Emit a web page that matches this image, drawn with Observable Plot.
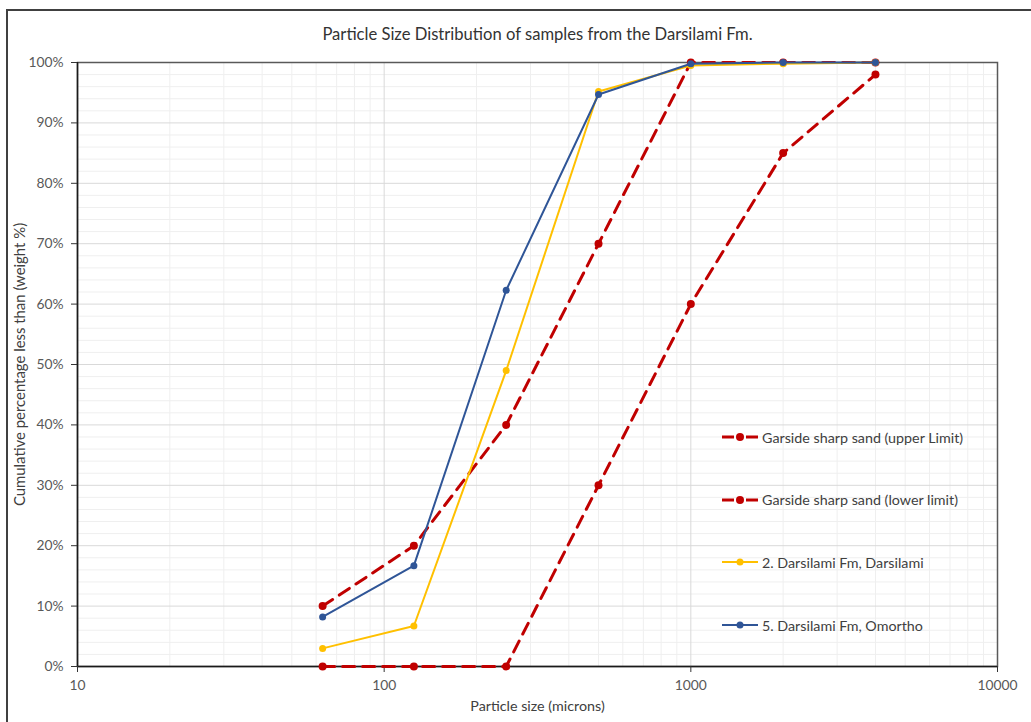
<!DOCTYPE html>
<html>
<head>
<meta charset="utf-8">
<script src="https://cdn.jsdelivr.net/npm/d3@7"></script>
<script src="https://cdn.jsdelivr.net/npm/@observablehq/plot@0.6"></script>
<style>
  html, body { margin: 0; padding: 0; background: #fff; overflow: hidden; }
  #wrap { position: relative; width: 1031px; height: 722px; font-family: Lato, "Open Sans", sans-serif; }
  #border { position: absolute; left: 6px; top: 9px; width: 1060px; height: 760px; border: 2px solid #404040; box-sizing: border-box; pointer-events: none; }
  #chart { position: absolute; left: 0; top: 0; }
  #legend { position: absolute; left: 0; top: 0; }
  .item { position: absolute; display: flex; align-items: center; font-size: 14.3px; color: #404040; white-space: nowrap; }
  .item svg { margin-right: 4px; }
</style>
</head>
<body>
<div id="wrap">
  <div id="chart"></div>
  <div id="legend"></div>
  <div id="border"></div>
</div>
<script>
// ---- data ----
const sizes = [63, 125, 250, 500, 1000, 2000, 4000];
const upperLimit = [10, 20, 40, 70, 100, 100, 100];
const lowerLimit = [0, 0, 0, 30, 60, 85, 98];
const darsilami = [3.0, 6.7, 49.0, 95.2, 99.5, 99.8, 100];
const omortho = [8.2, 16.7, 62.3, 94.7, 99.8, 100, 100];
const seriesNames = [
  "Garside sharp sand (upper Limit)",
  "Garside sharp sand (lower limit)",
  "2. Darsilami Fm, Darsilami",
  "5. Darsilami Fm, Omortho"
];
const seriesColors = ["#C00000", "#C00000", "#FFC000", "#2F5597"];
const seriesDashed = [true, true, false, false];
const xMajorTicks = [10, 100, 1000, 10000];
const yMajorTicks = [0, 10, 20, 30, 40, 50, 60, 70, 80, 90, 100];
const titleText = "Particle Size Distribution of samples from the Darsilami Fm.";
const xLabel = "Particle size (microns)";
const yLabel = "Cumulative percentage less than (weight %)";

// ---- derived ----
const seriesValues = [upperLimit, lowerLimit, darsilami, omortho];
const rows = seriesValues.flatMap((vals, i) =>
  sizes.map((s, j) => ({series: seriesNames[i], size: s, pct: vals[j]})));
const xMinor = [];
for (let d = 10; d < 10000; d *= 10) for (let k = 2; k <= 9; k++) xMinor.push(d * k);
const yMinor = d3.range(0, 101, 2).filter(v => v % 10 !== 0);

const lineMarks = seriesNames.flatMap((name, i) => {
  const data = rows.filter(r => r.series === name);
  return [
    Plot.line(data, {x: "size", y: "pct", stroke: seriesColors[i],
      strokeWidth: seriesDashed[i] ? 3 : 2,
      strokeDasharray: seriesDashed[i] ? "12,8" : null}),
    Plot.dot(data, {x: "size", y: "pct", fill: seriesColors[i], r: seriesDashed[i] ? 4 : 3.5})
  ];
});

const chart = Plot.plot({
  width: 1031,
  height: 722,
  marginLeft: 77,
  marginRight: 34,
  marginTop: 62,
  marginBottom: 56,
  style: {fontFamily: "Lato, 'Open Sans', sans-serif", background: "transparent"},
  x: {type: "log", domain: [10, 10000]},
  y: {domain: [0, 100]},
  marks: [
    Plot.ruleX(xMinor, {stroke: "#efefef", strokeWidth: 1}),
    Plot.ruleY(yMinor, {stroke: "#efefef", strokeWidth: 1}),
    Plot.ruleX(xMajorTicks, {stroke: "#d9d9d9", strokeWidth: 1}),
    Plot.ruleY(yMajorTicks, {stroke: "#d9d9d9", strokeWidth: 1}),
    Plot.frame({stroke: "#595959", strokeWidth: 1.5}),
    Plot.ruleY([0], {stroke: "#1a1a1a", strokeWidth: 1.5}),
    Plot.ruleX([10], {stroke: "#1a1a1a", strokeWidth: 1.5}),
    Plot.axisX({ticks: xMajorTicks, tickFormat: d => String(d), tickSize: 6, tickPadding: 8,
      fontSize: 13.8, color: "#595959", stroke: "#333", label: null}),
    Plot.axisY({ticks: yMajorTicks, tickFormat: d => d + "%", tickSize: 6, tickPadding: 8,
      fontSize: 13.8, color: "#595959", stroke: "#333", label: null}),
    Plot.text([xLabel], {frameAnchor: "bottom", dy: 44, fontSize: 14.3, fill: "#404040"}),
    Plot.text([yLabel], {frameAnchor: "left", textAnchor: "middle", dx: -57, rotate: -90, fontSize: 14.9, fill: "#404040"}),
    ...lineMarks,
    Plot.text([titleText], {frameAnchor: "top", dy: -34, fontSize: 16.6, fill: "#333"})
  ]
});
document.getElementById("chart").appendChild(chart);

// ---- legend ----
const legend = document.getElementById("legend");
seriesNames.forEach((name, i) => {
  const item = document.createElement("div");
  item.className = "item";
  item.style.left = "722px";
  item.style.top = (428 + i * 62.7) + "px";
  const dash = seriesDashed[i];
  item.innerHTML = `<svg width="36" height="18">
    <line x1="0" x2="36" y1="9" y2="9" stroke="${seriesColors[i]}" stroke-width="${dash ? 3 : 2}" ${dash ? 'stroke-dasharray="12,12,12"' : ''}/>
    <circle cx="18" cy="9" r="${dash ? 4 : 3.5}" fill="${seriesColors[i]}"/></svg><span>${name}</span>`;
  legend.appendChild(item);
});
</script>
</body>
</html>
